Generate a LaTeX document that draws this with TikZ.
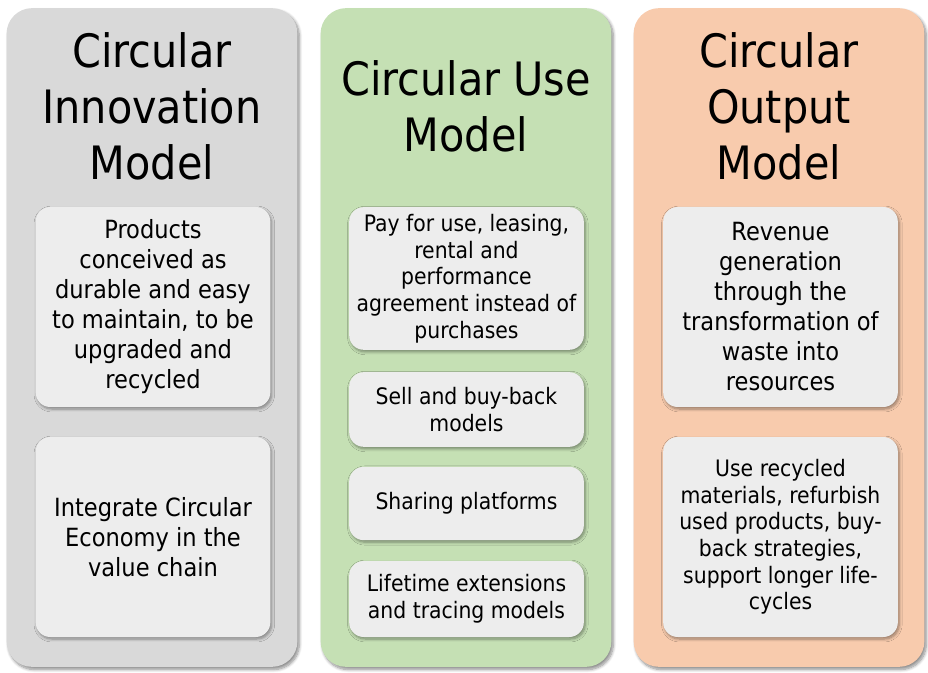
\documentclass[tikz,border=0pt]{standalone}
\usepackage{fontspec}
\setmainfont{DejaVu Sans Condensed}
\usetikzlibrary{shadows.blur}
\definecolor{innogrey}{HTML}{D9D9D9}
\definecolor{usegreen}{HTML}{C5E0B4}
\definecolor{outorange}{HTML}{F8CBAD}
\definecolor{boxgrey}{HTML}{EDEDED}
\begin{document}
\begin{tikzpicture}[x=0.75pt,y=-0.75pt,
  col/.style={fill=#1,rounded corners=19pt,minimum width=218pt,minimum height=494pt,
    blur shadow={shadow xshift=1.5pt,shadow yshift=-2pt,shadow blur steps=8,shadow opacity=45}},
  title/.style={align=center,inner sep=0pt,font=\fontsize{34.5}{42}\selectfont},
  card/.style={fill=boxgrey,rounded corners=11pt,minimum width=176pt,minimum height=#1,
    align=center,inner sep=0pt,font=\fontsize{18.8}{22.5}\selectfont,
    blur shadow={shadow xshift=1pt,shadow yshift=-1.5pt,shadow blur steps=6,shadow opacity=40}},
  tight/.style={font=\fontsize{17}{20}\selectfont}]
\useasboundingbox(0,0)rectangle(928,673);
% columns
\node[col=innogrey](inno)at(152,337.5){};
\node[col=usegreen](use)at(466,337.5){};
\node[col=outorange](out)at(779,337.5){};
\node[title](innot)at(152,106){Circular\\Innovation\\Model};
\node[title](uset)at(466,106){Circular Use\\Model};
\node[title](outt)at(779,106){Circular\\Output\\Model};
% circular innovation
\node[card=150pt](inno1)at(153,307){Products\\conceived as\\durable and easy\\to maintain, to be\\upgraded and\\recycled};
\node[card=150pt](inno2)at(153,537){Integrate Circular\\Economy in the\\value chain};
% circular use
\node[card=107pt,tight](use1)at(466.5,278.5){Pay for use, leasing,\\rental and\\performance\\agreement instead of\\purchases};
\node[card=56pt,tight](use2)at(466.5,409.5){Sell and buy-back\\models};
\node[card=55pt,tight](use3)at(466.5,503.5){Sharing platforms};
\node[card=57pt,tight](use4)at(466.5,599){Lifetime extensions\\and tracing models};
% circular output
\node[card=150pt](out1)at(780.5,307){Revenue\\generation\\through the\\transformation of\\waste into\\resources};
\node[card=150pt,tight](out2)at(780.5,537){Use recycled\\materials, refurbish\\used products, buy-\\back strategies,\\support longer life-\\cycles};
\end{tikzpicture}
\end{document}
